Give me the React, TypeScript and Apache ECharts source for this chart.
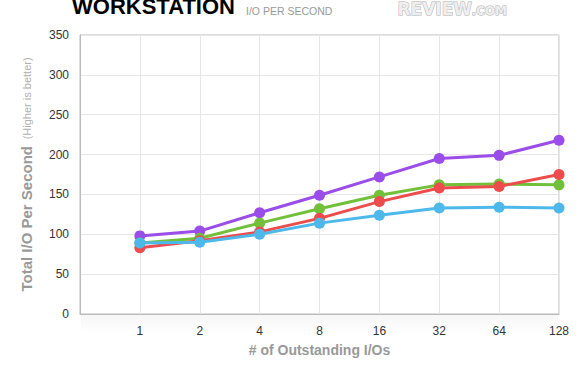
import React, { useEffect, useRef } from "react";
import * as echarts from "echarts";

const categories = ["", "1", "2", "4", "8", "16", "32", "64", "128"];
const seriesNames = [
  "Samsung SpinPoint F1 320GB",
  "Western Digital Caviar Black 500GB",
  "Drive C",
  "Drive D",
];
const samsungValues = [null, 89, 90, 100, 114, 124, 133, 134, 133];
const wdBlackValues = [null, 89, 95, 114, 132, 149, 162, 163, 162];
const redValues = [null, 83, 92, 103, 120, 141, 158, 160, 175];
const purpleValues = [null, 98, 104, 127, 149, 172, 195, 199, 218];
const yTicks = { min: 0, max: 350, interval: 50 };

const FONT = "'Liberation Sans', Arial, Helvetica, sans-serif";
const LOGO_FONT = "'DejaVu Sans', sans-serif";

export default function App() {
  const ref = useRef<HTMLDivElement>(null);
  useEffect(() => {
    document.body.style.margin = "0";
    if (!ref.current) return;
    const chart = echarts.init(ref.current, undefined, { renderer: "svg" });
    const mk = (name: string, data: (number | null)[], color: string, z: number) => ({
      name,
      type: "line",
      data,
      z,
      symbol: "circle",
      symbolSize: 11,
      showSymbol: true,
      connectNulls: false,
      lineStyle: { color, width: 3 },
      itemStyle: { color, borderWidth: 0 },
    });
    chart.setOption({
      animation: false,
      backgroundColor: "#fff",
      textStyle: { fontFamily: FONT },
      grid: {
        left: 80,
        right: 21,
        top: 35,
        bottom: 76,
        show: true,
        borderColor: "#bbb",
        borderWidth: 1,
        containLabel: false,
      },
      legend: [
        {
          data: [seriesNames[0]],
          left: 68,
          top: 385,
          icon: "circle",
          itemWidth: 11,
          itemHeight: 11,
          textStyle: { color: "#333", fontSize: 12, fontFamily: FONT },
        },
        {
          data: [seriesNames[1]],
          left: 296,
          top: 385,
          icon: "circle",
          itemWidth: 11,
          itemHeight: 11,
          textStyle: { color: "#333", fontSize: 12, fontFamily: FONT },
        },
      ],
      xAxis: {
        type: "category",
        data: categories,
        boundaryGap: false,
        axisLine: { show: true, lineStyle: { color: "#bbb", width: 1 } },
        axisTick: { show: false },
        axisLabel: { color: "#333", fontSize: 12, margin: 11, fontFamily: FONT },
        splitLine: { show: true, lineStyle: { color: "#e6e6e6", width: 1 } },
        name: "# of Outstanding I/Os",
        nameLocation: "middle",
        nameGap: 29,
        nameTextStyle: { color: "#999", fontSize: 14, fontWeight: "bold", fontFamily: FONT },
      },
      yAxis: {
        type: "value",
        min: yTicks.min,
        max: yTicks.max,
        interval: yTicks.interval,
        axisLine: { show: true, lineStyle: { color: "#bbb", width: 1 } },
        axisTick: { show: false },
        axisLabel: { color: "#333", fontSize: 12, margin: 11, fontFamily: FONT },
        splitLine: { show: true, lineStyle: { color: "#e6e6e6", width: 1 } },
        name: "{a|Total I/O Per Second}  {b|(Higher is better)}",
        nameLocation: "middle",
        nameRotate: 90,
        nameGap: 46,
        nameTextStyle: {
          rich: {
            a: { color: "#999", fontSize: 15, fontWeight: "bold", fontFamily: FONT },
            b: { color: "#b0b0b0", fontSize: 11, fontFamily: FONT },
          },
        },
      },
      series: [
        mk(seriesNames[3], purpleValues, "#9a4de8", 2),
        mk(seriesNames[1], wdBlackValues, "#72c03a", 3),
        mk(seriesNames[2], redValues, "#ec4c4c", 4),
        mk(seriesNames[0], samsungValues, "#4cb9ea", 5),
      ],
      graphic: [
        {
          type: "rect",
          z: -1,
          shape: { x: 81, y: 315, width: 477, height: 18 },
          style: {
            fill: new echarts.graphic.LinearGradient(0, 0, 0, 1, [
              { offset: 0, color: "rgba(0,0,0,0.035)" },
              { offset: 1, color: "rgba(0,0,0,0)" },
            ]),
          },
        },
        {
          type: "text",
          left: 72,
          top: -5,
          style: {
            text: "WORKSTATION",
            fill: "#000",
            font: `bold 22px ${FONT}`,
          },
        },
        {
          type: "text",
          left: 246,
          top: 5,
          style: {
            text: "I/O PER SECOND",
            fill: "#999",
            font: `10.5px ${FONT}`,
          },
        },
        {
          type: "text",
          left: 397,
          top: 0,
          style: {
            text: "REVIEW",
            fill: "#eeeeee",
            stroke: "#b0b0b0",
            lineWidth: 1,
            font: `bold 17px ${LOGO_FONT}`,
          },
        },
        {
          type: "text",
          left: 471,
          top: 4,
          style: {
            text: ".COM",
            fill: "#eeeeee",
            stroke: "#b0b0b0",
            lineWidth: 1,
            font: `bold 12px ${LOGO_FONT}`,
          },
        },
      ],
    });
    return () => chart.dispose();
  }, []);
  return <div ref={ref} style={{ width: 580, height: 390 }} />;
}
